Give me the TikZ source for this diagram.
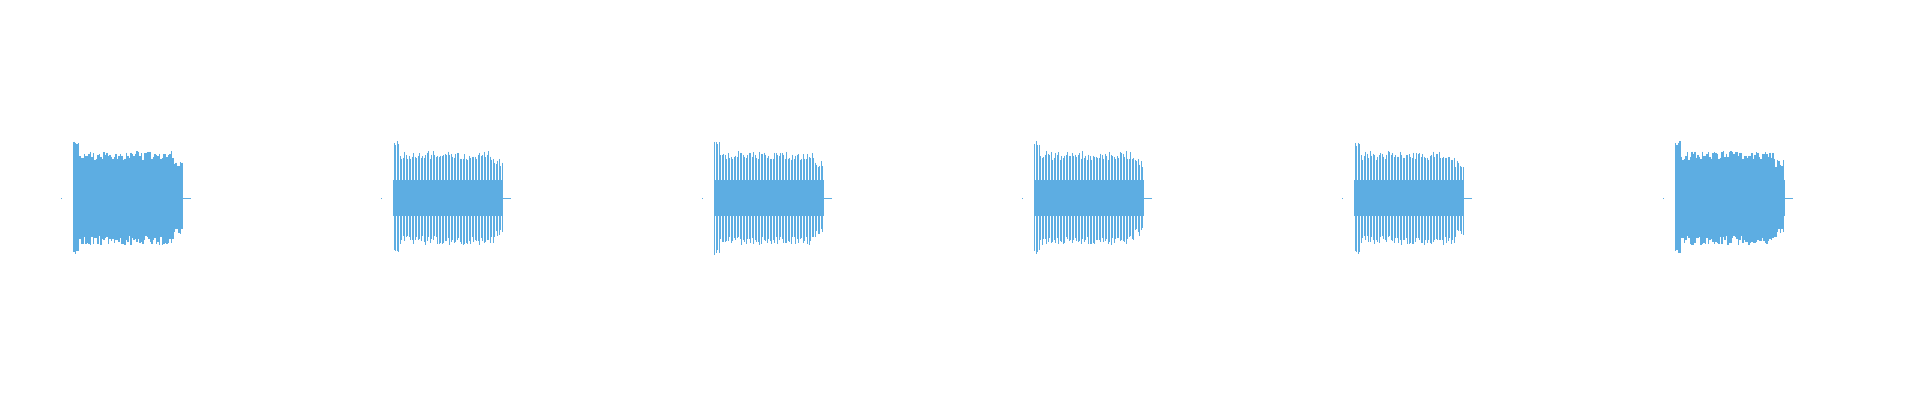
\documentclass[tikz,border=0pt]{standalone}
\definecolor{wave}{RGB}{93,173,226}
\begin{document}
\begin{tikzpicture}[x=1pt,y=-1pt,wv/.style={draw=wave,line width=1.1pt}]
\useasboundingbox (0,0) rectangle (1920,400);
\pgfmathsetseed{7}
\foreach \k in {0,...,5}{
  \pgfmathsetmacro{\xs}{73+\k*320.3}
  \fill[wave] (\xs-12,198.3) rectangle (\xs-11,198.9);
  \fill[wave] (\xs,180) rectangle (\xs+110,216);
  \foreach \i in {0,...,72}{
    \pgfmathsetmacro{\xx}{\xs+1+\i*1.5}
    \pgfmathsetmacro{\ht}{\i<4 ? 52+5*rnd : (\i>66 ? 30+10*rnd : 38+9*rnd)}
    \pgfmathsetmacro{\hb}{\i<4 ? 52+5*rnd : (\i>66 ? 30+10*rnd : 38+9*rnd)}
    \draw[wv] (\xx,198-\ht) -- (\xx,198+\hb);
  }
  \draw[wave,line width=0.7pt] (\xs+108,198.6) -- (\xs+118,198.6);
}
\end{tikzpicture}
\end{document}
